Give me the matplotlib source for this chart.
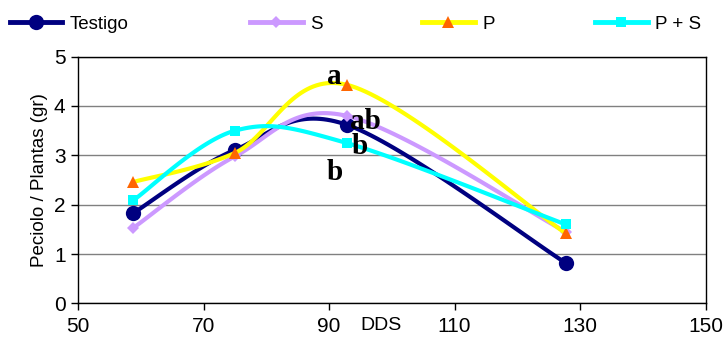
import numpy as np
import matplotlib

matplotlib.use("Agg")
import matplotlib.pyplot as plt

plt.rcParams["font.family"] = ["Liberation Sans", "DejaVu Sans"]

# data
dds = [58.8, 75, 92.8, 127.7]
testigo = [1.83, 3.11, 3.62, 0.82]
s_vals = [1.53, 2.98, 3.80, 1.45]
p_vals = [2.46, 3.05, 4.43, 1.42]
ps_vals = [2.09, 3.50, 3.25, 1.60]

letters = ["a", "ab", "b", "b"]
letter_x = [90.9, 95.8, 94.9, 90.9]
letter_y = [4.60, 3.69, 3.17, 2.66]

series = [
    ("Testigo", testigo, "#000080", "o", "#000080", 11),
    ("S", s_vals, "#CC99FF", "D", "#CC99FF", 6.5),
    ("P", p_vals, "#FFFF00", "^", "#FF6600", 9),
    ("P + S", ps_vals, "#00FFFF", "s", "#00FFFF", 7.5),
]
legend_x = [10, 250, 422, 595]

# pixel scale per data unit, so the smoothing behaves like it does on screen
SX, SY = 6.28, 49.3


def smooth(xs, ys, n=40):
    """Excel-like smoothed line: Bezier segments with tangents from neighbours."""
    pts = np.column_stack([np.array(xs) * SX, np.array(ys) * SY])
    ext = np.vstack([pts[0], pts, pts[-1]])
    out = []
    t = np.linspace(0, 1, n)[:, None]
    for i in range(len(pts) - 1):
        p0, p1 = ext[i + 1], ext[i + 2]
        c1 = p0 + (ext[i + 2] - ext[i]) / 6
        c2 = p1 - (ext[i + 3] - ext[i + 1]) / 6
        seg = ((1 - t) ** 3) * p0 + 3 * ((1 - t) ** 2) * t * c1 + 3 * (1 - t) * t ** 2 * c2 + t ** 3 * p1
        out.append(seg)
    out = np.vstack(out)
    return out[:, 0] / SX, out[:, 1] / SY


fig = plt.figure(figsize=(7.23, 3.39), dpi=100)
ax = fig.add_axes([0.108, 0.105, 0.868, 0.728])

for i, (name, vals, lc, mk, mc, ms) in enumerate(series):
    sx, sy = smooth(dds, vals)
    ax.plot(sx, sy, color=lc, lw=3, solid_capstyle="butt", zorder=3 + i)
    ax.plot(dds, vals, ls="none", marker=mk, color=mc, markersize=ms,
            markeredgewidth=0, zorder=3 + i)
    h, = ax.plot([], [], color=lc, lw=3.5, marker=mk, markerfacecolor=mc,
                 markeredgewidth=0, markersize=ms * 1.0)
    fig.legend([h], [name], loc="center left",
               bbox_to_anchor=(legend_x[i] / 723, 1 - 24 / 339),
               frameon=False, fontsize=13.5, borderpad=0, borderaxespad=0,
               handlelength=2.8, handletextpad=0.4)

for txt, lx, ly in zip(letters, letter_x, letter_y):
    ax.text(lx, ly, txt, family="Liberation Serif", fontweight="bold",
            fontsize=21, ha="center", va="center", zorder=10)

ax.set_xlim(50, 150)
ax.set_ylim(0, 5)
ax.set_xticks(range(50, 151, 20))
ax.set_yticks(range(0, 6))
ax.yaxis.grid(True, color="#808080", lw=1)
ax.set_axisbelow(True)
for sp in ax.spines.values():
    sp.set_color("black")
    sp.set_linewidth(1)
ax.tick_params(axis="both", direction="out", length=5, width=1, labelsize=15, pad=4)
ax.tick_params(axis="x", pad=5)
ax.set_ylabel("Peciolo / Plantas (gr)", fontsize=13.5, labelpad=4)
ax.text(98.2, -0.27, "DDS", fontsize=14, ha="center", va="top")

fig.savefig("out.png", dpi=100)
